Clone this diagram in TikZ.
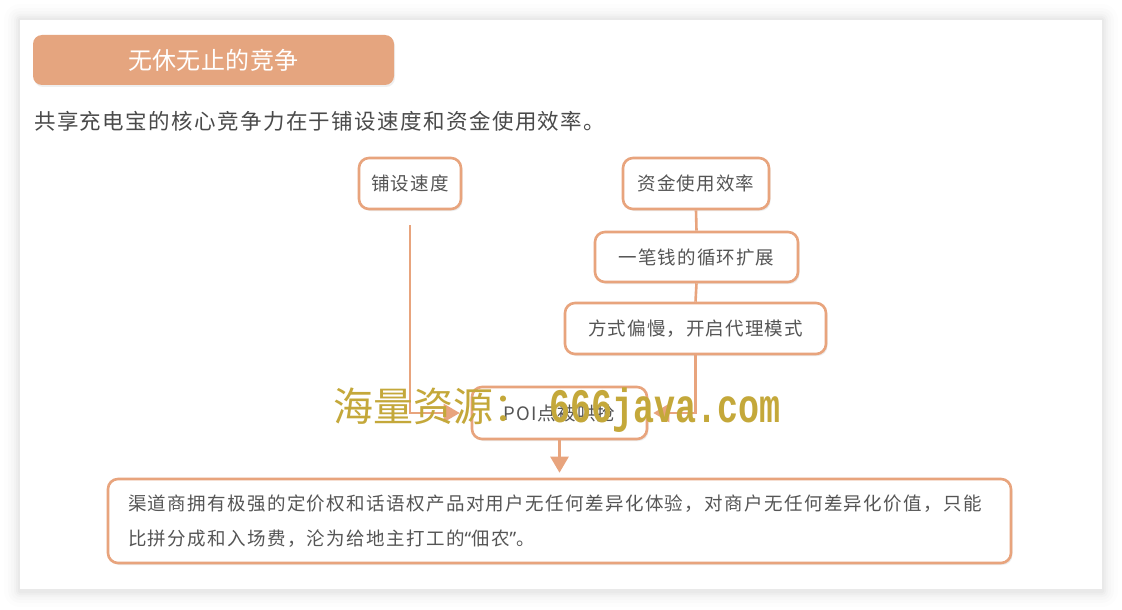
\documentclass[tikz,border=0pt]{standalone}
\usepackage{fontspec}
\usepackage{graphicx}
\setmainfont{Noto Sans CJK SC}
\newfontfamily\wmmono{Liberation Mono}
\newfontfamily\qfont{Noto Sans}
\usetikzlibrary{arrows.meta,shadows,calc}
\definecolor{org}{HTML}{E8A47D}
\definecolor{orgfill}{HTML}{E5A57F}
\definecolor{txt}{HTML}{555555}
\definecolor{subtxt}{HTML}{4A4A4A}
\definecolor{wm}{HTML}{C4A83A}
\begin{document}
\begin{tikzpicture}[x=1pt,y=-1pt,
  box/.style={draw=org, line width=2.6pt, rounded corners=10pt, fill=white, text=txt,
    font=\fontsize{18.5}{22}\selectfont\addfontfeature{LetterSpace=6}, inner sep=0pt,
    drop shadow={opacity=0.15, shadow xshift=1.5pt, shadow yshift=-2pt}},
  conn/.style={draw=org, line width=2.6pt},
  arr/.style={conn, -{Triangle[length=16pt,width=18pt]}},
]
\useasboundingbox (0,0) rectangle (1122,610);
\fill[white] (0,0) rectangle (1122,610);
% card shadow
\foreach \i/\o in {16/0.008,12/0.01,9/0.012,6/0.015,4/0.018,2/0.02}{
  \fill[black, opacity=\o, rounded corners=\i pt] (20-\i,20-\i) rectangle (1102+\i,589+\i+2);
}
\fill[white] (20,20) rectangle (1102,589);

% title
\node[fill=orgfill, rounded corners=9pt, minimum width=361pt, minimum height=50pt,
  text=white, font=\fontsize{24}{28}\selectfont\addfontfeature{LetterSpace=2}, inner sep=0pt,
  drop shadow={opacity=0.12, shadow xshift=1pt, shadow yshift=-2pt}] (title) at (213.5,60) {无休无止的竞争};

% subtitle
\node[anchor=west, text=subtxt, font=\fontsize{21.5}{26}\selectfont\addfontfeature{LetterSpace=6.5}, inner sep=0pt] (sub) at (34,121)
  {共享充电宝的核心竞争力在于铺设速度和资金使用效率。};

% nodes
\node[box, minimum width=102pt, minimum height=51pt] (a) at (410,183.5) {铺设速度};
\node[box, minimum width=146pt, minimum height=51pt] (b) at (696,183.5) {资金使用效率};
\node[box, minimum width=203pt, minimum height=50pt] (c) at (696.5,257) {一笔钱的循环扩展};
\node[box, minimum width=261pt, minimum height=51pt] (d) at (695.5,328.5) {方式偏慢，开启代理模式};
\node[box, minimum width=175pt, minimum height=52pt] (poi) at (559.5,413) {POI点被哄抢};
\node[box, minimum width=903pt, minimum height=84pt, text width=863pt, align=left,
  inner xsep=20pt, font=\fontsize{18.5}{35}\selectfont\addfontfeature{LetterSpace=7.5}] (bot) at (559.5,521)
  {渠道商拥有极强的定价权和话语权产品对用户无任何差异化体验，对商户无任何差异化价值，只能\\比拼分成和入场费，沦为给地主打工的{\qfont“}佃农{\qfont”}。};

% connectors
\coordinate (aS) at ([yshift=-15pt]a.south);
\draw[arr, shorten >=11pt] (aS) |- (poi.west);
\draw[conn] (b.south) -- (c.north);
\draw[conn] (c.south) -- (d.north);
\draw[arr, shorten >=5pt] (d.south) |- (poi.east);
\draw[arr, shorten >=5pt] (poi.south) -- (bot.north);

% watermark
\node[anchor=base west, text=wm, font=\fontsize{40}{40}\selectfont, inner sep=0pt] (wm1) at (333,421) {海量资源：};
\node[anchor=base west, text=wm, font=\wmmono\bfseries\fontsize{48}{48}\selectfont, inner sep=0pt] (wm2) at (549,422) {\scalebox{0.73}[1]{666java.com}};
\end{tikzpicture}
\end{document}
